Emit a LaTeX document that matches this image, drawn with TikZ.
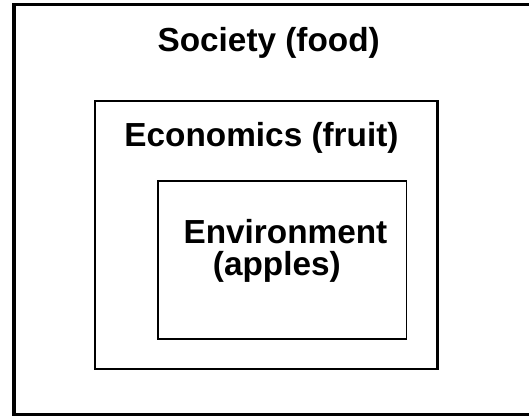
\documentclass[tikz,border=0pt]{standalone}
\usepackage{fontspec}
\setmainfont{Liberation Sans}
\usepackage{tikz}

\begin{document}
\begin{tikzpicture}[x=0.75pt, y=0.75pt,
  box/.style={draw, rectangle, inner sep=0pt, outer sep=0pt},
  title/.style={inner sep=0pt, font=\bfseries\fontsize{25}{23.8}\selectfont}]
\path[use as bounding box, clip] (0,0) rectangle (529,415);
% Society
\node[box, line width=2.7pt, minimum width=409.5pt, minimum height=307.5pt] (society) at (287,205.5) {};
\node[title, anchor=base] (society-text) at (268.7,363) {Society (food)};
% Economics
\node[box, line width=1.7pt, minimum width=257.1pt, minimum height=201.2pt] (economics) at (266.1,179.8) {};
\node[title, anchor=base] (economics-text) at (261.5,268) {Economics (fruit)};
% Environment
\node[box, line width=1.3pt, minimum width=186.4pt, minimum height=118.5pt] (environment) at (282.25,155) {};
\node[title, anchor=base west, align=left] (environment-text) at (183.3,140) {Environment\\\hspace*{0.88em}(apples)};
\end{tikzpicture}
\end{document}
